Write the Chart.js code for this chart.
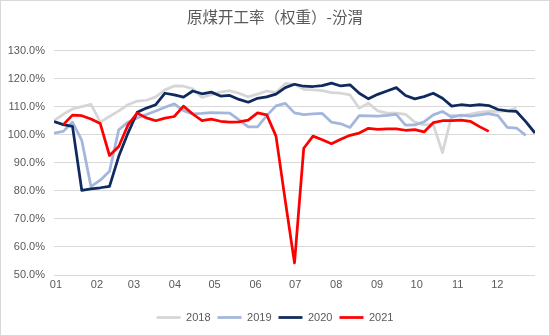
<!DOCTYPE html>
<html>
<head>
<meta charset="utf-8">
<script src="https://cdn.jsdelivr.net/npm/chart.js@4.4.0/dist/chart.umd.min.js"></script>
<style>
  html, body { margin: 0; padding: 0; background: #fff; }
  #wrap { width: 550px; height: 336px; box-sizing: border-box; border: 1px solid #d9d9d9; }
  #chart { display: block; }
</style>
</head>
<body>
<div id="wrap"><canvas id="chart" width="548" height="334"></canvas></div>
<script>
// 월 눈금 (01~12), 주 단위 x축
const monthLabels = ['01', '02', '03', '04', '05', '06', '07', '08', '09', '10', '11', '12'];
const monthStartDays = [0, 31, 59, 90, 120, 151, 181, 212, 243, 273, 304, 334];
const seriesNames = ['2018', '2019', '2020', '2021'];

// 주간 개공률 (%)
const v2018 = [105.0, 107.3, 109.2, 110.0, 110.8, 104.5, 106.5, 108.5, 110.7, 112.0, 112.3, 113.5, 116.0, 117.4,
    117.3, 116.4, 113.3, 114.3, 115.2, 115.7, 114.8, 113.5, 114.5, 115.6, 115.0, 118.3, 118.0, 116.2, 116.0, 115.7,
    115.0, 114.8, 114.2, 109.5, 111.2, 108.5, 107.7, 107.7, 107.3, 104.5, 103.5, 103.7, 93.6, 107.0, 106.6, 107.4,
    108.0, 108.3, 108.3, 108.5, 109.5];
const v2019 = [100.6, 101.2, 104.5, 98.0, 81.5, 83.8, 87.0, 101.8, 104.5, 106.0, 107.2, 108.5, 109.8, 111.0,
    108.6, 107.4, 107.6, 107.9, 107.8, 107.7, 105.3, 102.8, 102.8, 106.8, 110.3, 111.2, 107.8, 107.2, 107.4, 107.6,
    104.5, 103.9, 102.6, 106.8, 106.7, 106.6, 106.9, 107.3, 103.4, 103.5, 104.6, 107.1, 108.3, 106.3, 107.0, 106.6,
    107.1, 107.5, 106.8, 102.6, 102.4, 99.8];
const v2020 = [104.7, 103.6, 103.0, 80.2, 80.7, 81.1, 81.6, 92.3, 100.6, 108.0, 109.5, 110.7, 114.8, 114.2,
    113.4, 115.6, 114.6, 115.2, 113.8, 114.0, 112.6, 111.6, 113.0, 113.5, 114.5, 116.8, 118.0, 117.3, 117.2, 117.5,
    118.4, 117.4, 117.8, 114.8, 112.8, 114.4, 115.6, 116.8, 114.0, 112.8, 113.6, 114.8, 113.0, 110.2, 110.7, 110.4,
    110.7, 110.4, 109.0, 108.5, 108.3, 104.7, 100.6];
const v2021 = [null, 103.6, 107.0, 106.8, 105.6, 104.0, 92.6, 95.8, 103.5, 107.7, 106.0, 105.0, 105.9, 106.5,
    110.2, 107.4, 105.0, 105.6, 104.8, 104.5, 104.6, 105.2, 107.8, 107.1, 99.5, 76.5, 54.3, 95.2, 99.5, 98.2,
    96.8, 98.4, 99.8, 100.6, 102.3, 101.9, 102.1, 102.1, 101.6, 101.8, 101.0, 104.3, 105.0, 105.0, 105.2, 104.8,
    102.9, 101.2];

const allValues = [v2018, v2019, v2020, v2021];
const colors = ['#d6d6d6', '#a3b6dc', '#0f2a5e', '#ff0000'];
const textColor = '#595959';

const toPoints = arr => arr.map((y, i) => ({ x: i, y: y }));

const datasets = allValues.map((vals, k) => ({
    label: seriesNames[k],
    data: toPoints(vals),
    borderColor: colors[k],
    backgroundColor: colors[k],
    borderWidth: 2.75,
    pointRadius: 0,
    tension: 0,
    borderJoinStyle: 'round',
    order: allValues.length - k   // 뒤 시리즈가 위에 그려지도록
}));

new Chart(document.getElementById('chart'), {
    type: 'line',
    data: { datasets },
    options: {
        responsive: false,
        animation: false,
        layout: { padding: { left: 0, right: 0, top: 0, bottom: 2 } },
        plugins: {
            title: {
                display: true,
                text: '原煤开工率（权重）-汾渭',
                color: textColor,
                font: { family: '"Noto Sans CJK SC"', size: 15.5, weight: 'normal' },
                padding: { top: 7, bottom: 24 }
            },
            legend: {
                position: 'bottom',
                labels: {
                    usePointStyle: true,
                    pointStyle: 'line',
                    pointStyleWidth: 24,
                    color: textColor,
                    padding: 7,
                    font: { family: '"Liberation Sans"', size: 11 },
                    sort: (a, b) => a.datasetIndex - b.datasetIndex
                }
            },
            tooltip: { enabled: false }
        },
        scales: {
            x: {
                type: 'linear',
                min: 0,
                max: 52,
                afterBuildTicks: scale => {
                    scale.ticks = monthStartDays.map(d => ({ value: (d + 1.5) / 7 }));
                },
                afterFit: scale => { scale.height = 30; },
                grid: { display: false, drawTicks: false },
                border: { display: false },
                ticks: {
                    autoSkip: false,
                    maxRotation: 0,
                    padding: 3,
                    color: textColor,
                    font: { family: '"Liberation Sans"', size: 11 },
                    callback: (value, index) => monthLabels[index]
                }
            },
            y: {
                min: 50,
                max: 130,
                afterFit: scale => { scale.width = 53; },
                grid: { color: '#d9d9d9', drawTicks: false },
                border: { display: false },
                ticks: {
                    stepSize: 10,
                    padding: 9,
                    color: textColor,
                    font: { family: '"Liberation Sans"', size: 11 },
                    callback: v => v.toFixed(1) + '%'
                }
            },
            // 오른쪽 여백용 빈 축
            yRight: {
                position: 'right',
                min: 50,
                max: 130,
                afterFit: scale => { scale.width = 14; },
                grid: { display: false, drawTicks: false },
                border: { display: false },
                ticks: { display: false }
            }
        }
    }
});
</script>
</body>
</html>
